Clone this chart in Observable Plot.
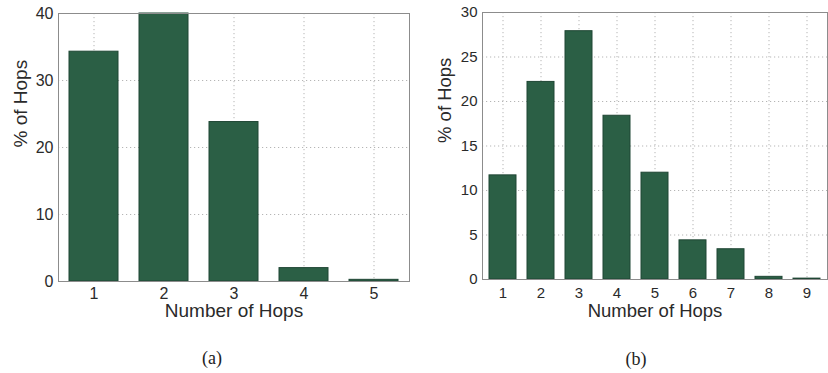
<!DOCTYPE html>
<html>
<head>
<meta charset="utf-8">
<script src="https://cdn.jsdelivr.net/npm/d3@7"></script>
<script src="https://cdn.jsdelivr.net/npm/@observablehq/plot@0.6"></script>
<style>
  html, body { margin: 0; padding: 0; background: #fff; }
  #wrap { position: relative; width: 828px; height: 373px; overflow: hidden; }
  .panel { position: absolute; top: 0; }
  .cap { position: absolute; font-family: "Liberation Serif", "DejaVu Serif", serif; font-size: 18px; color: #222; transform: translate(-50%, -50%); white-space: nowrap; }
  #pa g[aria-label="x-axis tick label"], #pa g[aria-label="y-axis tick label"] { font-size: 16px; }
  #pb g[aria-label="x-axis tick label"], #pb g[aria-label="y-axis tick label"] { font-size: 15px; }
</style>
</head>
<body>
<div id="wrap">
  <div id="pa" class="panel" style="left:0px"></div>
  <div id="pb" class="panel" style="left:420px"></div>
  <div class="cap" style="left:212px; top:358px">(a)</div>
  <div class="cap" style="left:636px; top:359px">(b)</div>
</div>
<script>
// Panel (a)
const hopsA = [1, 2, 3, 4, 5];
const pctA = [34.3, 40, 23.8, 2.0, 0.25];
const yTicksA = [0, 10, 20, 30, 40];
// Panel (b)
const hopsB = [1, 2, 3, 4, 5, 6, 7, 8, 9];
const pctB = [11.7, 22.2, 27.9, 18.4, 12.0, 4.4, 3.4, 0.3, 0.1];
const yTicksB = [0, 5, 10, 15, 20, 25, 30];

const xLabel = "Number of Hops";
const yLabel = "% of Hops";

const barFill = "#2b5f45";
const barStroke = "#1f4634";
const gridColor = "#b5b5b5";
const frameColor = "#8c8c8c";
const textColor = "#2a2a2a";

function makePanel(hops, pct, yTicks, yMax, opts) {
  const data = hops.map((h, i) => ({hop: h, pct: pct[i]}));
  return Plot.plot({
    width: opts.width,
    height: 330,
    marginLeft: opts.marginLeft,
    marginRight: opts.marginRight,
    marginTop: opts.marginTop,
    marginBottom: opts.marginBottom,
    style: {fontFamily: "'Liberation Sans', Arial, sans-serif", fontSize: "16px", color: textColor, background: "transparent", overflow: "visible"},
    x: {type: "band", domain: hops, paddingInner: 0.3, paddingOuter: 0.15},
    y: {domain: [0, yMax]},
    marks: [
      Plot.gridX(hops, {stroke: gridColor, strokeOpacity: 1, strokeDasharray: "1.2,2.8"}),
      Plot.gridY(yTicks, {stroke: gridColor, strokeOpacity: 1, strokeDasharray: "1.2,2.8"}),
      Plot.barY(data, {x: "hop", y: "pct", fill: barFill, stroke: barStroke, strokeWidth: 1}),
      Plot.frame({stroke: frameColor, strokeWidth: 1}),
      Plot.axisX(hops, {tickSize: 0, tickPadding: opts.xPad, label: null, fontSize: opts.tickFont}),
      Plot.axisY(yTicks, {tickSize: 0, tickPadding: 5, label: null, fontSize: opts.tickFont}),
      Plot.text([xLabel], {frameAnchor: "bottom", lineAnchor: "middle", dy: opts.xLabelDy, fontSize: opts.labelFont, fill: textColor}),
      Plot.text([yLabel], {frameAnchor: "left", lineAnchor: "middle", rotate: -90, dx: opts.yLabelDx, dy: opts.yLabelDy, fontSize: opts.labelFont, fill: textColor})
    ]
  });
}

document.getElementById("pa").append(
  makePanel(hopsA, pctA, yTicksA, 40, {width: 420, marginLeft: 58, marginRight: 11, marginTop: 13, marginBottom: 49,
    yLabelDx: -38, yLabelDy: 0, tickFont: 16, xPad: 6, xLabelDy: 29.8, labelFont: 19})
);
document.getElementById("pb").append(
  makePanel(hopsB, pctB, yTicksB, 30, {width: 408, marginLeft: 62, marginRight: 1, marginTop: 12, marginBottom: 51,
    yLabelDx: -37, yLabelDy: -3, tickFont: 15, xPad: 7.5, xLabelDy: 31.2, labelFont: 18.5})
);
</script>
</body>
</html>
